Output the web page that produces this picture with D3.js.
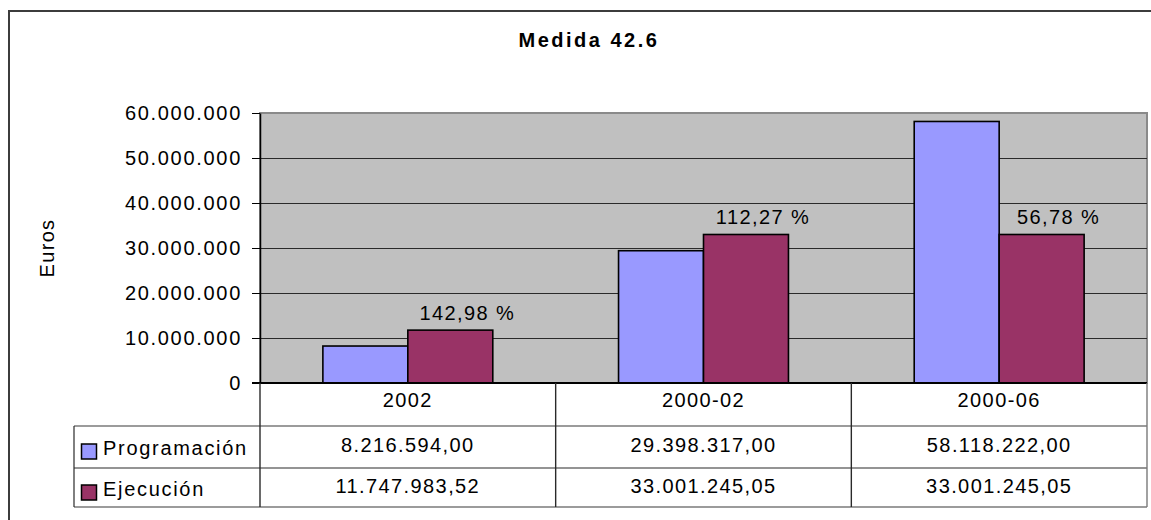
<!DOCTYPE html>
<html>
<head>
<meta charset="utf-8">
<script src="https://cdn.jsdelivr.net/npm/d3@7"></script>
<style>
  body { margin: 0; background: #fff; }
  svg text { font-family: "Liberation Sans", Arial, sans-serif; fill: #000; }
</style>
</head>
<body>
<div id="chart"></div>
<script>
const WIDTH = 1151;
const HEIGHT = 520;
const PLOT_LEFT = 260;
const PLOT_RIGHT = 1147;
const PLOT_TOP = 113;
const PLOT_BOTTOM = 383;
const ROW_BOTTOMS = [426, 468, 507];
const LEGEND_LEFT = 74;
const FONT = '20px';
const SPACING = '1.7px';

const title = 'Medida 42.6';
const yTitle = 'Euros';
const categories = ['2002', '2000-02', '2000-06'];
const seriesNames = ['Programación', 'Ejecución'];
const programacion = [8216594.00, 29398317.00, 58118222.00];
const ejecucion = [11747983.52, 33001245.05, 33001245.05];
const ejecucionPct = [142.98, 112.27, 56.78];
const yTicks = [0, 10000000, 20000000, 30000000, 40000000, 50000000, 60000000];
const colors = ['#9999ff', '#993366'];

const locale = d3.formatLocale({ decimal: ',', thousands: '.', grouping: [3], currency: ['', ' €'] });
const fmtInt = locale.format(',.0f');
const fmtDec = locale.format(',.2f');

let svg;

function buildFrame() {
  svg = d3.select('#chart').append('svg')
    .attr('width', WIDTH)
    .attr('height', HEIGHT);

  svg.append('rect')
    .attr('x', 9)
    .attr('y', 11)
    .attr('width', 1170)
    .attr('height', 540)
    .attr('fill', '#fff')
    .attr('stroke', '#3c3c3c')
    .attr('stroke-width', 2);

  svg.append('text')
    .attr('x', 589)
    .attr('y', 47)
    .attr('text-anchor', 'middle')
    .style('font-size', FONT)
    .style('font-weight', 'bold')
    .style('letter-spacing', '2.5px')
    .text(title);

  svg.append('text')
    .attr('transform', 'translate(54, 248) rotate(-90)')
    .attr('text-anchor', 'middle')
    .style('font-size', FONT)
    .style('letter-spacing', '1.3px')
    .text(yTitle);
}

function buildPlot() {
  let x = d3.scaleBand()
    .domain(categories)
    .range([PLOT_LEFT, PLOT_RIGHT])
    .padding(0);

  let xInner = d3.scaleBand()
    .domain(seriesNames)
    .range([0, x.bandwidth()])
    .paddingInner(0)
    .paddingOuter(0.74);

  let y = d3.scaleLinear()
    .domain([0, 60000000])
    .range([PLOT_BOTTOM, PLOT_TOP]);

  window.x = x;

  svg.append('rect')
    .attr('x', PLOT_LEFT)
    .attr('y', PLOT_TOP)
    .attr('width', PLOT_RIGHT - PLOT_LEFT)
    .attr('height', PLOT_BOTTOM - PLOT_TOP)
    .attr('fill', '#c0c0c0')
    .attr('stroke', '#8a8a8a')
    .attr('stroke-width', 2);

  // gridlines
  svg.append('g')
    .selectAll('line')
    .data(yTicks.filter((t) => t > 0 && t < 60000000))
    .enter()
    .append('line')
    .attr('x1', PLOT_LEFT)
    .attr('x2', PLOT_RIGHT)
    .attr('y1', (d) => Math.round(y(d)) + 0.5)
    .attr('y2', (d) => Math.round(y(d)) + 0.5)
    .attr('stroke', '#2a2a2a')
    .attr('stroke-width', 1);

  let yAxis = d3.axisLeft(y)
    .tickValues(yTicks)
    .tickFormat(fmtInt)
    .tickSize(8)
    .tickPadding(10)
    .tickSizeOuter(0);

  let axisG = svg.append('g')
    .attr('transform', `translate(${PLOT_LEFT}, 0)`)
    .call(yAxis);

  axisG.select('.domain').attr('stroke', '#000').attr('stroke-width', 1.5);
  axisG.selectAll('.tick line').attr('stroke', '#000');
  axisG.selectAll('.tick text')
    .style('font-size', FONT)
    .style('letter-spacing', SPACING)
    .attr('font-family', null);

  // bars
  let seriesData = [programacion, ejecucion];
  seriesData.forEach((values, si) => {
    svg.append('g')
      .selectAll('rect')
      .data(values)
      .enter()
      .append('rect')
      .attr('x', (d, i) => x(categories[i]) + xInner(seriesNames[si]))
      .attr('y', (d) => y(d))
      .attr('width', xInner.bandwidth())
      .attr('height', (d) => y(0) - y(d))
      .attr('fill', colors[si])
      .attr('stroke', '#000')
      .attr('stroke-width', 1.6);
  });

  // percentage labels above Ejecución bars
  svg.append('g')
    .selectAll('text')
    .data(ejecucion)
    .enter()
    .append('text')
    .attr('x', (d, i) => x(categories[i]) + xInner(seriesNames[1]) + xInner.bandwidth() / 2 + 17)
    .attr('y', (d) => y(d) - 10)
    .attr('text-anchor', 'middle')
    .style('font-size', FONT)
    .style('letter-spacing', '1.4px')
    .text((d, i) => fmtDec(ejecucionPct[i]) + ' %');

  // baseline
  svg.append('line')
    .attr('x1', PLOT_LEFT - 8)
    .attr('x2', PLOT_RIGHT)
    .attr('y1', y(0))
    .attr('y2', y(0))
    .attr('stroke', '#000')
    .attr('stroke-width', 2);
}

function buildTable() {
  let t = svg.append('g').attr('class', 'table');
  let grey = '#7a7a7a';
  let dark = '#2a2a2a';

  // horizontal rules
  t.append('line').attr('x1', LEGEND_LEFT).attr('x2', PLOT_RIGHT)
    .attr('y1', ROW_BOTTOMS[0]).attr('y2', ROW_BOTTOMS[0]).attr('stroke', grey).attr('stroke-width', 1.5);
  t.append('line').attr('x1', LEGEND_LEFT).attr('x2', PLOT_RIGHT)
    .attr('y1', ROW_BOTTOMS[1]).attr('y2', ROW_BOTTOMS[1]).attr('stroke', dark).attr('stroke-width', 1.2);
  t.append('line').attr('x1', LEGEND_LEFT).attr('x2', PLOT_RIGHT)
    .attr('y1', ROW_BOTTOMS[2]).attr('y2', ROW_BOTTOMS[2]).attr('stroke', grey).attr('stroke-width', 1.5);

  // vertical rules
  t.append('line').attr('x1', LEGEND_LEFT).attr('x2', LEGEND_LEFT)
    .attr('y1', ROW_BOTTOMS[0]).attr('y2', ROW_BOTTOMS[2]).attr('stroke', dark).attr('stroke-width', 1.2);

  let dividers = categories.map((c) => x(c)).concat([PLOT_RIGHT]);
  t.selectAll('line.col')
    .data(dividers)
    .enter()
    .append('line')
    .attr('class', 'col')
    .attr('x1', (d) => d)
    .attr('x2', (d) => d)
    .attr('y1', PLOT_BOTTOM)
    .attr('y2', ROW_BOTTOMS[2])
    .attr('stroke', (d, i) => i === dividers.length - 1 ? grey : dark)
    .attr('stroke-width', 1.4);

  // category header
  t.selectAll('text.cat')
    .data(categories)
    .enter()
    .append('text')
    .attr('class', 'cat')
    .attr('x', (d) => x(d) + x.bandwidth() / 2)
    .attr('y', 407)
    .attr('text-anchor', 'middle')
    .style('font-size', FONT)
    .style('letter-spacing', '1.4px')
    .text((d) => d);

  // value rows
  let rows = [programacion, ejecucion];
  let baselines = [452, 493];
  rows.forEach((values, ri) => {
    t.append('g')
      .selectAll('text')
      .data(values)
      .enter()
      .append('text')
      .attr('x', (d, i) => x(categories[i]) + x.bandwidth() / 2)
      .attr('y', baselines[ri])
      .attr('text-anchor', 'middle')
      .style('font-size', FONT)
      .style('letter-spacing', '1.4px')
      .text((d) => fmtDec(d));

    t.append('rect')
      .attr('x', 81.5)
      .attr('y', baselines[ri] - 8)
      .attr('width', 15)
      .attr('height', 15)
      .attr('fill', colors[ri])
      .attr('stroke', '#000')
      .attr('stroke-width', 1.5);

    t.append('text')
      .attr('x', 103)
      .attr('y', baselines[ri] + 3)
      .style('font-size', FONT)
      .style('letter-spacing', SPACING)
      .text(seriesNames[ri]);
  });
}

buildFrame();
buildPlot();
buildTable();
</script>
</body>
</html>
